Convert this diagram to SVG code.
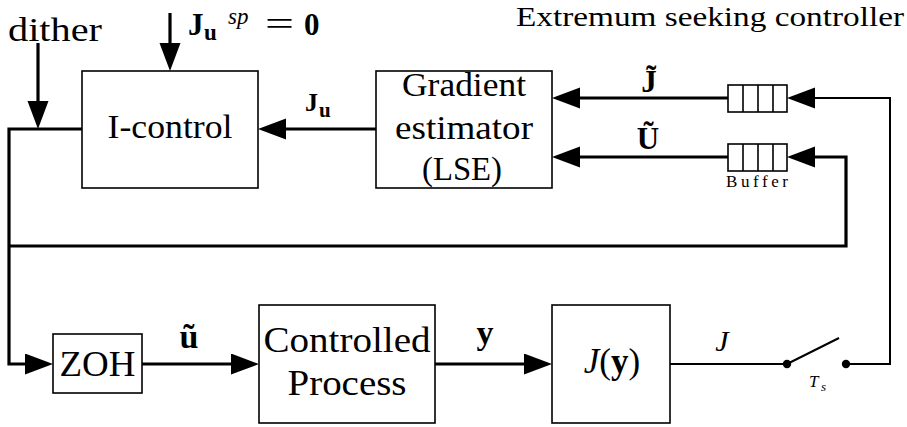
<svg xmlns="http://www.w3.org/2000/svg" width="907" height="427" viewBox="0 0 907 427" font-family="'Liberation Serif', 'Times New Roman', serif">
<style>
text, tspan { font-family: "Liberation Serif", "Times New Roman", serif; fill: #000; }
.lbl { font-size: 33px; text-anchor: middle; }
.b { font-weight: bold; }
.i { font-style: italic; }
.box { fill: #fff; stroke: #000; stroke-width: 1.6; }
.thick { fill: none; stroke: #000; stroke-width: 3.2; }
.thin { fill: none; stroke: #000; stroke-width: 2; }
.cell { fill: #fff; stroke: #000; stroke-width: 1.6; }
</style>
<defs>
<marker id="ah" markerUnits="userSpaceOnUse" markerWidth="30" markerHeight="22" refX="2" refY="10.5" orient="auto">
<path d="M0,0 L28,10.5 L0,21 Z" fill="#000"/>
</marker>
</defs>

<g id="connectors">
  <path class="thick" d="M38,43 V103" marker-end="url(#ah)"/>
  <path class="thick" d="M170,13 V45" marker-end="url(#ah)"/>
  <path class="thick" d="M376,129 H284" marker-end="url(#ah)"/>
  <path class="thick" d="M82,129 H9 V364 H27" marker-end="url(#ah)"/>
  <path class="thick" d="M9,246 H846 V157 H813" marker-end="url(#ah)"/>
  <path class="thick" d="M142,364 H233" marker-end="url(#ah)"/>
  <path class="thick" d="M435,364 H526" marker-end="url(#ah)"/>
  <path class="thick" d="M728,98 H578" marker-end="url(#ah)"/>
  <path class="thick" d="M728,157 H578" marker-end="url(#ah)"/>
  <path class="thin" d="M670,364 H787"/>
  <path class="thin" d="M787,364 L839,338"/>
  <path class="thin" d="M846,364 H890 V98 H813" marker-end="url(#ah)"/>
  <circle cx="787" cy="364" r="4.2" fill="#000"/>
  <circle cx="846" cy="364" r="4.2" fill="#000"/>
</g>

<g id="labels">
  <text x="8" y="41" style="font-size:34px" textLength="94" lengthAdjust="spacingAndGlyphs">dither</text>
  <text x="516" y="26" style="font-size:28px" textLength="388" lengthAdjust="spacingAndGlyphs">Extremum seeking controller</text>
  <text class="b" x="188" y="35" style="font-size:31px">J</text>
  <text class="b" x="204" y="40" style="font-size:23px">u</text>
  <text class="i" x="228" y="24" style="font-size:23px">sp</text>
  <text x="265" y="35" style="font-size:34px" textLength="29" lengthAdjust="spacingAndGlyphs">=</text>
  <text class="b" x="304" y="35" style="font-size:31px">0</text>
  <text class="b" x="305" y="111" style="font-size:26px">J</text>
  <text class="b" x="319" y="117" style="font-size:21px">u</text>
  <text class="b lbl" x="649" y="92" style="font-size:31px">J̃</text>
  <text class="b lbl" x="648" y="149" style="font-size:31px">Ũ</text>
  <text class="b lbl" x="189" y="348" style="font-size:34px">ũ</text>
  <text class="b lbl" x="485" y="344" style="font-size:34px">y</text>
  <text class="i lbl" x="722" y="351" style="font-size:30px">J</text>
  <text class="i" x="809" y="387" style="font-size:17px">T</text>
  <text class="i" x="821" y="391" style="font-size:13px">s</text>
  <text x="757" y="187" style="font-size:17px" text-anchor="middle" textLength="62" lengthAdjust="spacing">Buffer</text>
</g>

<g id="icontrol">
  <rect class="box" x="82" y="71" width="176" height="117"/>
  <text class="lbl" x="170" y="138" style="font-size:34px" textLength="125" lengthAdjust="spacingAndGlyphs">I-control</text>
</g>

<g id="gradient">
  <rect class="box" x="376" y="71" width="176" height="117"/>
  <text class="lbl" x="464" y="96" style="font-size:33px" textLength="124" lengthAdjust="spacingAndGlyphs">Gradient</text>
  <text class="lbl" x="464" y="139" style="font-size:33px" textLength="138" lengthAdjust="spacingAndGlyphs">estimator</text>
  <text class="lbl" x="462" y="180" style="font-size:33px" textLength="80" lengthAdjust="spacingAndGlyphs">(LSE)</text>
</g>

<g id="buffer_j">
  <rect class="cell" x="728" y="85" width="59" height="27"/>
  <path class="thin" d="M743,85 V112 M758,85 V112 M773,85 V112" style="stroke-width:1.6"/>
</g>

<g id="buffer_u">
  <rect class="cell" x="728" y="144" width="59" height="27"/>
  <path class="thin" d="M743,144 V171 M758,144 V171 M773,144 V171" style="stroke-width:1.6"/>
</g>

<g id="zoh">
  <rect class="box" x="53" y="334" width="89" height="59"/>
  <text class="lbl" x="97.5" y="376" style="font-size:36px" textLength="76" lengthAdjust="spacingAndGlyphs">ZOH</text>
</g>

<g id="process">
  <rect class="box" x="259" y="305" width="176" height="118"/>
  <text class="lbl" x="347" y="352" style="font-size:35px" textLength="167" lengthAdjust="spacingAndGlyphs">Controlled</text>
  <text class="lbl" x="347" y="395" style="font-size:35px" textLength="119" lengthAdjust="spacingAndGlyphs">Process</text>
</g>

<g id="jfunc">
  <rect class="box" x="552" y="305" width="118" height="118"/>
  <text class="lbl" x="612" y="373" style="font-size:35px"><tspan class="i">J</tspan>(<tspan class="b">y</tspan>)</text>
</g>
</svg>
